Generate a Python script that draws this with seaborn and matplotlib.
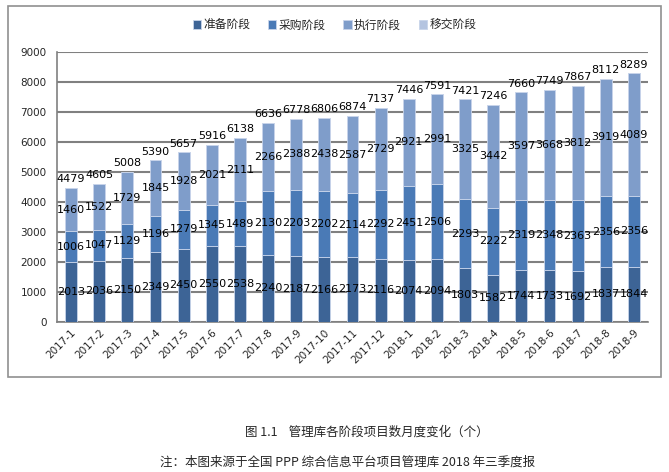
import numpy as np
import pandas as pd
import matplotlib
matplotlib.use('Agg')
import matplotlib.pyplot as plt
import seaborn as sns

months = ['2017-1', '2017-2', '2017-3', '2017-4', '2017-5', '2017-6', '2017-7',
          '2017-8', '2017-9', '2017-10', '2017-11', '2017-12', '2018-1', '2018-2',
          '2018-3', '2018-4', '2018-5', '2018-6', '2018-7', '2018-8', '2018-9']
prep = [2013, 2036, 2150, 2349, 2450, 2550, 2538, 2240, 2187, 2166, 2173, 2116,
        2074, 2094, 1803, 1582, 1744, 1733, 1692, 1837, 1844]
purchase = [1006, 1047, 1129, 1196, 1279, 1345, 1489, 2130, 2203, 2202, 2114, 2292,
            2451, 2506, 2293, 2222, 2319, 2348, 2363, 2356, 2356]
execute = [1460, 1522, 1729, 1845, 1928, 2021, 2111, 2266, 2388, 2438, 2587, 2729,
           2921, 2991, 3325, 3442, 3597, 3668, 3812, 3919, 4089]
transfer = [0] * 21
totals = [4479, 4605, 5008, 5390, 5657, 5916, 6138, 6636, 6778, 6806, 6874, 7137,
          7446, 7591, 7421, 7246, 7660, 7749, 7867, 8112, 8289]
stages = ['准备阶段', '采购阶段', '执行阶段', '移交阶段']
colors = ['#3d6496', '#4a7ab6', '#7f9dca', '#b4c4e0']

sns.set_style('white')
plt.rcParams['font.family'] = ['DejaVu Sans', 'Noto Sans CJK SC']

df = pd.DataFrame({'month': months, stages[0]: prep, stages[1]: purchase,
                   stages[2]: execute, stages[3]: transfer})

fig = plt.figure(figsize=(6.69, 4.72), dpi=100)
ax = fig.add_axes([0.0852, 0.3178, 0.8834, 0.572])

x = np.arange(len(months))
bottom = np.zeros(len(months))
for stage, c in zip(stages, colors):
    vals = df[stage].values
    ax.bar(x, vals, bottom=bottom, width=0.42, color=c, edgecolor='#c8d4ea',
           linewidth=0.6, label=stage, zorder=3)
    if stage != '移交阶段':
        for xi, b, v in zip(x, bottom, vals):
            ax.text(xi, b + v / 2, str(v), ha='center', va='center',
                    fontsize=8, color='black', zorder=4)
    bottom = bottom + vals

for xi, t in zip(x, totals):
    ax.text(xi, t + 120, str(t), ha='center', va='bottom', fontsize=8,
            color='black', zorder=4)

ax.set_xlim(-0.5, len(months) - 0.5)
ax.set_ylim(0, 9000)
ax.set_yticks(range(0, 9001, 1000))
ax.yaxis.grid(True, color='#808080', linewidth=1.5, zorder=0)
ax.set_xticks(x)
ax.set_xticklabels(months, rotation=45, ha='right', rotation_mode='anchor', fontsize=7.5)
ax.set_xticks(np.arange(-0.5, len(months), 1), minor=True)
ax.tick_params(axis='x', which='major', length=0, pad=4)
ax.tick_params(axis='x', which='minor', length=4, color='#808080', width=1)
ax.tick_params(axis='y', length=4, color='#808080', width=1, labelsize=7.5)
for s in ['top', 'right']:
    ax.spines[s].set_visible(False)
for s in ['left', 'bottom']:
    ax.spines[s].set_color('#808080')
    ax.spines[s].set_linewidth(1.2)

fig.legend(*ax.get_legend_handles_labels(), loc='center', bbox_to_anchor=(0.5, 0.947),
           ncol=4, frameon=False, prop={'family': 'Noto Sans CJK SC', 'size': 8.5},
           handlelength=0.7, handleheight=0.7, handletextpad=0.2, columnspacing=1.5)

border = plt.Rectangle((0.012, 0.202), 0.976, 0.786, transform=fig.transFigure,
                       fill=False, edgecolor='#909090', linewidth=1.2)
fig.add_artist(border)

fig.text(0.549, 0.085, '图 1.1    管理库各阶段项目数月度变化（个）', ha='center', va='center',
         fontsize=9, family=['Noto Sans CJK SC', 'DejaVu Sans'])
fig.text(0.52, 0.021, '注：本图来源于全国 PPP 综合信息平台项目管理库 2018 年三季度报', ha='center',
         va='center', fontsize=9, family=['Noto Sans CJK SC', 'DejaVu Sans'])

fig.savefig('out.png', dpi=100)
